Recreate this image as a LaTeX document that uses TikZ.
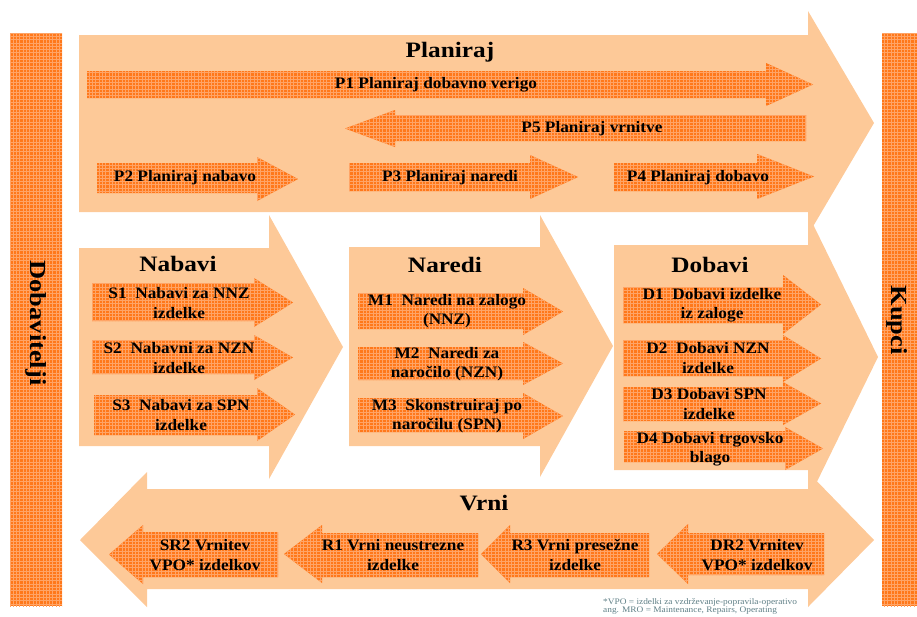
\documentclass[tikz,border=0pt]{standalone}
\usepackage{fontspec}
\setmainfont{Liberation Serif}
\newfontfamily\lblfont[FakeStretch=1.08]{Liberation Serif}
\newfontfamily\headfont[FakeStretch=1.15]{Liberation Serif}
\newfontfamily\notefont[FakeStretch=1.1]{Liberation Serif}
\definecolor{peach}{HTML}{FDC998}
\definecolor{plaidbase}{HTML}{FF781A}
\definecolor{plaidline}{HTML}{FFA466}
\definecolor{notegray}{HTML}{5F7F86}

% right-pointing process arrow: tail x, head x, tip x, body top, body bottom, head top, head bottom
\newcommand\scorR[7]{%
  \fill[plaid] (#1,#4) -- (#2,#4) -- (#2,#6) -- (#3,{(#6+#7)/2}) -- (#2,#7) -- (#2,#5) -- (#1,#5) -- cycle;}
% left-pointing process arrow: tip x, head x, tail x, body top, body bottom, head top, head bottom
\newcommand\scorL[7]{%
  \fill[plaid] (#1,{(#6+#7)/2}) -- (#2,#6) -- (#2,#4) -- (#3,#4) -- (#3,#5) -- (#2,#5) -- (#2,#7) -- cycle;}

\begin{document}
\begin{tikzpicture}[x=1pt,y=-1pt,
  band/.style={fill=peach},
  plaid/.style={fill=plaidbase, path picture={
      \draw[plaidline,line width=0.8pt]
        ([shift={(-4pt,-4pt)}]path picture bounding box.south west) grid[step=3.3pt]
        ([shift={(4pt,4pt)}]path picture bounding box.north east);}},
  lbl/.style={font=\lblfont\bfseries\fontsize{16}{19.5}\selectfont, align=center, inner sep=0pt},
  title/.style={font=\headfont\bfseries\fontsize{22}{24}\selectfont, inner sep=0pt},
  side/.style={font=\headfont\bfseries\fontsize{23}{24}\selectfont, inner sep=0pt, rotate=-90},
  note/.style={font=\notefont\fontsize{8.5}{8.5}\selectfont, text=notegray, align=left, inner sep=0pt}
]
\useasboundingbox (0,0) rectangle (917,616);

% side bars: suppliers and customers
\fill[plaid] (10,33) rectangle (62,606);
\fill[plaid] (882,33) rectangle (917,606);

% large process bands
\fill[band] (79,35) -- (808,35) -- (808,11) -- (874,123) -- (808,235) -- (808,212) -- (79,212) -- cycle;
\fill[band] (79,248) -- (269,248) -- (269,215) -- (343,347) -- (269,479) -- (269,446) -- (79,446) -- cycle;
\fill[band] (349,247) -- (540,247) -- (540,215) -- (613,346) -- (540,477) -- (540,446) -- (349,446) -- cycle;
\fill[band] (614,245) -- (808,245) -- (808,214) -- (878,357) -- (808,500) -- (808,470) -- (614,470) -- cycle;
\fill[band] (80,540) -- (147,472) -- (147,489) -- (808,489) -- (808,472) -- (874,540) -- (808,607)
  -- (808,589) -- (147,589) -- (147,607) -- cycle;

% planning arrows
\scorR{87}{766}{813}{71}{98}{63}{106}
\scorL{345}{395}{806}{115}{141}{110}{147}
\scorR{97}{257}{298}{163}{193}{157}{201}
\scorR{349}{530}{578}{163}{191}{155}{199}
\scorR{614}{757}{814}{163}{191}{154}{199}
% source arrows
\scorR{92}{254}{293}{283}{321}{278}{327}
\scorR{92}{254}{293}{340}{374}{335}{380}
\scorR{94}{257}{295}{395}{435}{388}{441}
% make arrows
\scorR{358}{523}{563}{293}{329}{288}{335}
\scorR{358}{523}{563}{347}{380}{342}{385}
\scorR{358}{523}{563}{398}{432}{393}{439}
% deliver arrows
\scorR{623}{783}{821}{287}{323}{275}{334}
\scorR{623}{783}{821}{340}{376}{335}{382}
\scorR{623}{783}{821}{387}{421}{382}{425}
\scorR{624}{785}{823}{431}{462}{427}{470}
% return arrows
\scorL{109}{143}{278}{532}{577}{525}{584}
\scorL{284}{322}{478}{533}{577}{525}{583}
\scorL{481}{510}{649}{533}{577}{525}{583}
\scorL{657}{688}{824}{533}{575}{524}{584}

% labels
\node[side] (dob) at (36,323) {Dobavitelji};
\node[side] (kup) at (897,320) {Kupci};

\node[title] (plan) at (450,52) {Planiraj};
\node[lbl] (p1) at (436,85) {P1 Planiraj dobavno verigo};
\node[lbl] (p5) at (592,129) {P5 Planiraj vrnitve};
\node[lbl] (p2) at (185,178) {P2 Planiraj nabavo};
\node[lbl] (p3) at (450,178) {P3 Planiraj naredi};
\node[lbl] (p4) at (698,178) {P4 Planiraj dobavo};

\node[title] (nab) at (178,264) {Nabavi};
\node[lbl] (s1) at (179,303) {S1\ \ Nabavi za NNZ\\izdelke};
\node[lbl] (s2) at (179,358) {S2\ \ Nabavni za NZN\\izdelke};
\node[lbl] (s3) at (181,415) {S3\ \ Nabavi za SPN\\izdelke};

\node[title] (nar) at (445,265) {Naredi};
\node[lbl] (m1) at (447,311) {M1\ \ Naredi na zalogo\\(NNZ)};
\node[lbl] (m2) at (447,364) {M2\ \ Naredi za\\naročilo (NZN)};
\node[lbl] (m3) at (447,416) {M3\ \ Skonstruiraj po\\naročilu (SPN)};

\node[title] (dobavi) at (710,265) {Dobavi};
\node[lbl] (d1) at (712,305) {D1\ \ Dobavi izdelke\\iz zaloge};
\node[lbl] (d2) at (708,358) {D2\ \ Dobavi NZN\\izdelke};
\node[lbl] (d3) at (709,404) {D3 Dobavi SPN\\izdelke};
\node[lbl] (d4) at (710,449) {D4 Dobavi trgovsko\\blago};

\node[title] (vrni) at (484,503) {Vrni};
\node[lbl] (sr2) at (205,555) {SR2 Vrnitev\\VPO* izdelkov};
\node[lbl] (r1) at (393,555) {R1 Vrni neustrezne\\izdelke};
\node[lbl] (r3) at (575,555) {R3 Vrni presežne\\izdelke};
\node[lbl] (dr2) at (757,555) {DR2 Vrnitev\\VPO* izdelkov};

\node[note, anchor=north west] (fn) at (603,598) {*VPO = izdelki za vzdrževanje-popravila-operativo\\ang. MRO = Maintenance, Repairs, Operating};
\end{tikzpicture}
\end{document}
